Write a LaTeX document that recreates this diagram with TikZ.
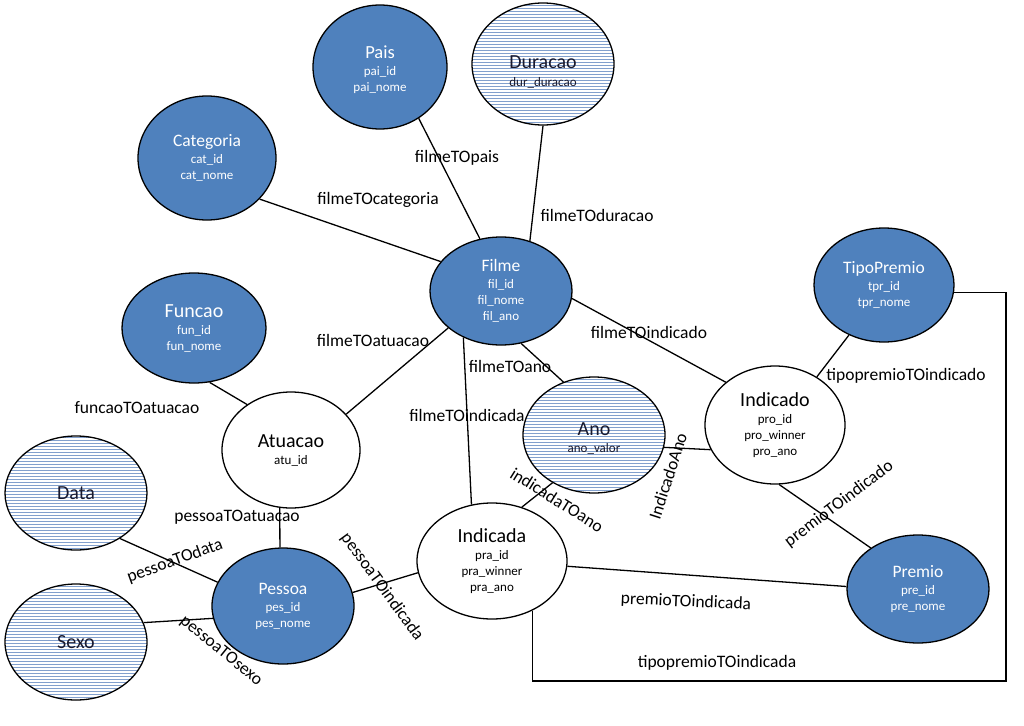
\documentclass[tikz,border=0pt]{standalone}
\usepackage{fontspec}
\setmainfont{Carlito}
\usetikzlibrary{shapes.geometric}
\definecolor{entblue}{RGB}{79,129,189}
\definecolor{hatchblue}{RGB}{130,160,205}
\definecolor{darktxt}{RGB}{25,25,45}
\newcommand\tbig{\fontsize{20}{22}\selectfont}
\newcommand\tmid{\fontsize{17.5}{20}\selectfont}
\begin{document}
\begin{tikzpicture}[x=1pt,y=-1pt,
  ent/.style={ellipse,draw=black,line width=1.3pt,inner sep=0pt,align=center,
    font=\fontsize{13}{16}\selectfont},
  blueent/.style={ent,fill=entblue,text=white},
  plainent/.style={ent,fill=white,text=black},
  hatchent/.style={ent,text=darktxt,fill=white,
    path picture={\foreach \k in {-64.5,-61.5,...,65} \draw[hatchblue,line width=1.2pt]
      ([yshift=\k pt]path picture bounding box.west) -- ([yshift=\k pt]path picture bounding box.east);}},
  conn/.style={draw=black,line width=1.3pt},
  lbl/.style={font=\fontsize{17.5}{20}\selectfont,inner sep=0pt,text=black}]
\fill[white] (0,0) rectangle (1024,725);
\useasboundingbox (0,0) rectangle (1024,725);

% entities
\node[blueent,minimum width=134pt,minimum height=124pt] (pais) at (380,67)
  {\rule{0pt}{0pt}\\[2pt]{\fontsize{18.5}{20}\selectfont Pais}\\[1pt]pai\_id\\pai\_nome};
\node[hatchent,minimum width=142pt,minimum height=122pt] (duracao) at (543,64)
  {\rule{0pt}{0pt}\\[12pt]{\tbig Duracao}\\[2pt]dur\_duracao};
\node[blueent,minimum width=138pt,minimum height=124pt] (categoria) at (207,158)
  {{\tmid Categoria}\\[1pt]cat\_id\\cat\_nome};
\node[blueent,minimum width=142pt,minimum height=108pt] (filme) at (501,291)
  {{\tmid Filme}\\[1pt]fil\_id\\fil\_nome\\fil\_ano};
\node[blueent,minimum width=144pt,minimum height=110pt] (funcao) at (194,328)
  {{\tbig Funcao}\\[1pt]fun\_id\\fun\_nome};
\node[plainent,minimum width=138pt,minimum height=116pt] (atuacao) at (291,450)
  {{\tbig Atuacao}\\[1pt]atu\_id};
\node[hatchent,minimum width=142pt,minimum height=114pt] (data) at (76,493)
  {\tbig Data};
\node[hatchent,minimum width=142pt,minimum height=116pt] (sexo) at (76,642)
  {\tbig Sexo};
\node[blueent,minimum width=142pt,minimum height=116pt] (pessoa) at (283,606)
  {{\tmid Pessoa}\\[1pt]pes\_id\\pes\_nome};
\node[plainent,minimum width=150pt,minimum height=116pt] (indicada) at (492,561)
  {{\tbig Indicada}\\[1pt]pra\_id\\pra\_winner\\pra\_ano};
\node[hatchent,minimum width=142pt,minimum height=116pt] (ano) at (594,435)
  {\rule{0pt}{0pt}\\[4pt]{\tbig Ano}\\[1pt]ano\_valor};
\node[plainent,minimum width=140pt,minimum height=118pt] (indicado) at (775,425)
  {{\tbig Indicado}\\[1pt]pro\_id\\pro\_winner\\pro\_ano};
\node[blueent,minimum width=140pt,minimum height=114pt] (tipopremio) at (884,285)
  {{\tmid TipoPremio}\\[1pt]tpr\_id\\tpr\_nome};
\node[blueent,minimum width=142pt,minimum height=108pt] (premio) at (918,589)
  {{\tmid Premio}\\[1pt]pre\_id\\pre\_nome};

% connectors
\draw[conn] (pais.-53) -- (filme.112);
\draw[conn] (duracao.-90) -- (filme.60);
\draw[conn] (categoria.-38) -- (filme.154);
\draw[conn] (filme.-145) -- (atuacao.33);
\draw[conn] (filme.-69) -- (ano.120);
\draw[conn] (filme.-129) -- (indicada.110);
\draw[conn] (filme.-6) -- (indicado.139);
\draw[conn] (funcao.-74) -- (atuacao.134);
\draw[conn] (atuacao.-101) -- (pessoa.93);
\draw[conn] (data.-46) -- (pessoa.160);
\draw[conn] (sexo.16) -- (pessoa.190);
\draw[conn] (pessoa.11) -- (indicada.189);
\draw[conn] (indicada.61) -- (ano.229);
\draw[conn] (ano.-10) -- (indicado.201);
\draw[conn] (indicado.49) -- (tipopremio.235);
\draw[conn] (indicado.-86) -- (premio.139);
\draw[conn] (indicada.-4) -- (premio.178);
\coordinate (corner) at (1006,681);
\draw[conn] (indicada.-51) |- (corner) |- (tipopremio.-6);

% labels
\node[lbl] (l1) at (457,158) {filmeTOpais};
\node[lbl] (l2) at (597,215) {filmeTOduracao};
\node[lbl] (l3) at (378,200) {filmeTOcategoria};
\node[lbl] (l4) at (373,340) {filmeTOatuacao};
\node[lbl] (l5) at (510,366) {filmeTOano};
\node[lbl] (l6) at (467,415) {filmeTOindicada};
\node[lbl] (l7) at (649,332) {filmeTOindicado};
\node[lbl] (l8) at (906,376) {tipopremioTOindicado};
\node[lbl] (l9) at (137,408) {funcaoTOatuacao};
\node[lbl] (l10) at (237,517) {pessoaTOatuacao};
\node[lbl,rotate=20] (l11) at (175,561) {pessoaTOdata};
\node[lbl,rotate=-39] (l12) at (221,651) {pessoaTOsexo};
\node[lbl,rotate=-54] (l13) at (382,587) {pessoaTOindicada};
\node[lbl,rotate=-32] (l14) at (557,500) {indicadaTOano};
\node[lbl,rotate=72] (l15) at (668,476) {IndicadoAno};
\node[lbl,rotate=37] (l16) at (839,504) {premioTOindicado};
\node[lbl,rotate=-2.5] (l17) at (686,602) {premioTOindicada};
\node[lbl] (l18) at (717,663) {tipopremioTOindicada};
\end{tikzpicture}
\end{document}
